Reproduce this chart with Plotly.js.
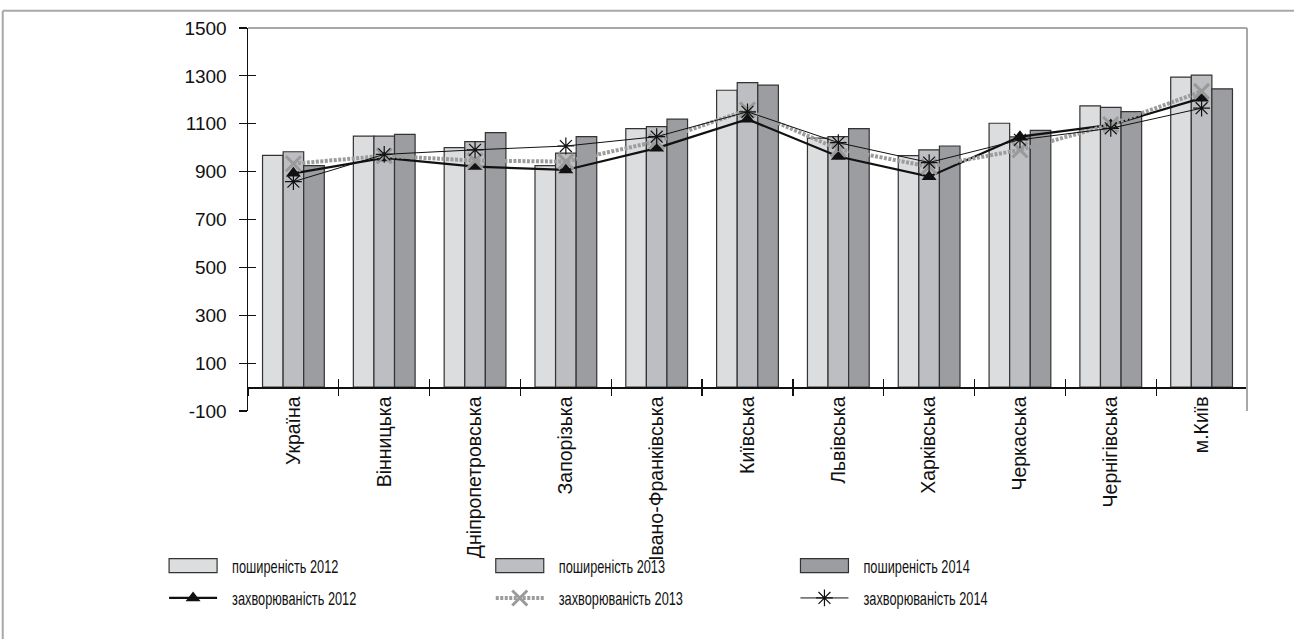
<!DOCTYPE html>
<html>
<head>
<meta charset="utf-8">
<script src="https://cdn.plot.ly/plotly-3.0.1.min.js"></script>
<style>
html,body{margin:0;padding:0;background:#fff;}
#chart{width:1294px;height:639px;}
#chart text.legendtext, #chart text.legend2text, #chart text.legend3text{
  transform-box: fill-box;
  transform-origin: 0 50%;
  transform: translateX(10px) scaleX(0.71);
}
</style>
</head>
<body>
<div id="chart"></div>
<script>
// Data
const regions = ["Україна","Вінницька","Дніпропетровська","Запорізька","Івано-Франківська","Київська","Львівська","Харківська","Черкаська","Чернігівська","м.Київ"];
const prevalence2012 = [968, 1048, 1000, 925, 1080, 1240, 1040, 967, 1102, 1175, 1295];
const prevalence2013 = [983, 1048, 1025, 977, 1088, 1272, 1046, 991, 1045, 1168, 1303];
const prevalence2014 = [925, 1056, 1063, 1046, 1119, 1261, 1080, 1007, 1072, 1151, 1246];
const incidence2012 = [893, 957, 921, 907, 998, 1119, 963, 879, 1046, 1095, 1207];
const incidence2013 = [933, 966, 946, 942, 1026, 1158, 994, 921, 991, 1097, 1235];
const incidence2014 = [858, 972, 991, 1007, 1046, 1150, 1021, 938, 1033, 1081, 1165];
const yTicks = [-100, 100, 300, 500, 700, 900, 1100, 1300, 1500];

const barNames = ["поширеність 2012","поширеність 2013","поширеність 2014"];
const lineNames = ["захворюваність 2012","захворюваність 2013","захворюваність 2014"];

const font = "Liberation Sans, Arial, sans-serif";

const barColors = ["#dcdddf","#bdbec2","#9c9da1"];
const prev = [prevalence2012, prevalence2013, prevalence2014];
const legendIds = ["legend","legend2","legend3"];

const traces = prev.map((vals, i) => ({
  type: "bar", x: regions, y: vals, name: barNames[i],
  legend: legendIds[i], legendgroup: "b" + i,
  marker: {color: barColors[i], line: {color: "#333", width: 1.2}},
  hoverinfo: "skip"
}));

traces.push({
  type: "scatter", mode: "lines+markers", x: regions, y: incidence2012, name: lineNames[0],
  legend: legendIds[0], legendgroup: "l0",
  line: {color: "#111", width: 2.2},
  marker: {symbol: "triangle-up", size: 13, color: "#111"},
  hoverinfo: "skip"
});
traces.push({
  type: "scatter", mode: "lines+markers", x: regions, y: incidence2013, name: lineNames[1],
  legend: legendIds[1], legendgroup: "l1",
  line: {color: "#9c9c9c", width: 4, dash: "3px,1.5px"},
  marker: {symbol: "x-thin-open", size: 15, color: "#9a9a9a", line: {color: "#9a9a9a", width: 3}},
  hoverinfo: "skip"
});
traces.push({
  type: "scatter", mode: "lines+markers", x: regions, y: incidence2014, name: lineNames[2],
  legend: legendIds[2], legendgroup: "l2",
  line: {color: "#111", width: 1},
  marker: {symbol: "asterisk-open", size: 14, color: "#111", line: {color: "#111", width: 1.2}},
  hoverinfo: "skip"
});
// invisible helper trace so the overlay axes (inner tick halves) are drawn
traces.push({
  type: "scatter", mode: "markers", x: regions, y: regions.map(() => null),
  xaxis: "x2", yaxis: "y2", showlegend: false, hoverinfo: "skip", marker: {opacity: 0}
});

const yRange = [-100, 1500];
const zeroPos = (0 - yRange[0]) / (yRange[1] - yRange[0]);

function legendAt(xPaper) {
  return {
    orientation: "v", x: xPaper, xanchor: "left", y: -0.356, yanchor: "top",
    itemwidth: 48, tracegroupgap: 6,
    font: {family: font, size: 18, color: "#111"},
    bgcolor: "rgba(0,0,0,0)", traceorder: "grouped"
  };
}

const layout = {
  width: 1294, height: 639,
  margin: {l: 248, r: 47, t: 28, b: 228, autoexpand: false},
  paper_bgcolor: "#fff", plot_bgcolor: "#fff",
  barmode: "group", bargap: 0.32, bargroupgap: 0,
  showlegend: true,
  hovermode: false,
  font: {family: font, color: "#111"},
  xaxis: {
    type: "category", categoryorder: "array", categoryarray: regions,
    range: [-0.5, regions.length - 0.5],
    anchor: "free", position: zeroPos, automargin: false,
    showline: true, linecolor: "#111", linewidth: 1.5,
    ticks: "outside", tickson: "boundaries", ticklen: 7, tickwidth: 1.2, tickcolor: "#111",
    tickangle: -90, tickfont: {family: font, size: 19.5, color: "#111"},
    showgrid: false, zeroline: false
  },
  xaxis2: {
    type: "category", categoryorder: "array", categoryarray: regions,
    range: [-0.5, regions.length - 0.5],
    overlaying: "x", anchor: "free", position: zeroPos,
    showline: false, ticks: "inside", tickson: "boundaries", ticklen: 8, tickwidth: 1.2, tickcolor: "#111",
    showticklabels: false, showgrid: false, zeroline: false
  },
  yaxis: {
    range: yRange, tickmode: "array", tickvals: yTicks, ticktext: yTicks.map(String),
    showline: true, linecolor: "#111", linewidth: 1.5, automargin: false,
    ticks: "outside", ticklen: 8, tickwidth: 1.2, tickcolor: "#111",
    ticklabelstandoff: 8,
    tickfont: {family: font, size: 19, color: "#111"},
    showgrid: false, zeroline: false
  },
  yaxis2: {
    range: yRange, overlaying: "y", tickmode: "array", tickvals: yTicks,
    showline: false, ticks: "inside", ticklen: 8, tickwidth: 1.2, tickcolor: "#111",
    showticklabels: false, showgrid: false, zeroline: false
  },
  legend: legendAt(-0.084),
  legend2: legendAt(0.243),
  legend3: legendAt(0.548),
  shapes: [
    {type: "line", xref: "paper", yref: "paper", x0: 0, x1: 1, y0: 1, y1: 1, line: {color: "#a8a8a8", width: 2}},
    {type: "line", xref: "paper", yref: "paper", x0: 1, x1: 1, y0: 0, y1: 1, line: {color: "#a8a8a8", width: 2}},
    {type: "line", xref: "paper", yref: "paper", x0: -0.2455, x1: 1.06, y0: 1.045, y1: 1.045, line: {color: "#a8a8a8", width: 2}},
    {type: "line", xref: "paper", yref: "paper", x0: -0.2455, x1: -0.2455, y0: 1.045, y1: -0.6, line: {color: "#a8a8a8", width: 2}}
  ]
};

function styleSwatches(gd) {
  gd.querySelectorAll("g.infolayer g[class^='legend']").forEach(lg => {
    if (!lg.querySelector("g.traces")) return;
    const lineEl = lg.querySelector("g.legendlines path");
    let x0 = 0, w = 48;
    if (lineEl) { const bb = lineEl.getBBox(); if (bb.width > 0) { x0 = bb.x; w = bb.width; } }
    lg.querySelectorAll("g.traces").forEach(tr => {
      if (!tr.querySelector("g.legendlines path")) {
        tr.querySelectorAll("g.legendpoints path").forEach(p => {
          p.setAttribute("transform", "");
          p.setAttribute("d", `M${x0},-7h${w}v14h${-w}Z`);
        });
      }
    });
  });
}

Plotly.newPlot("chart", traces, layout, {displayModeBar: false, staticPlot: true}).then(gd => {
  styleSwatches(gd);
  setTimeout(() => styleSwatches(gd), 50);
});
</script>
</body>
</html>
